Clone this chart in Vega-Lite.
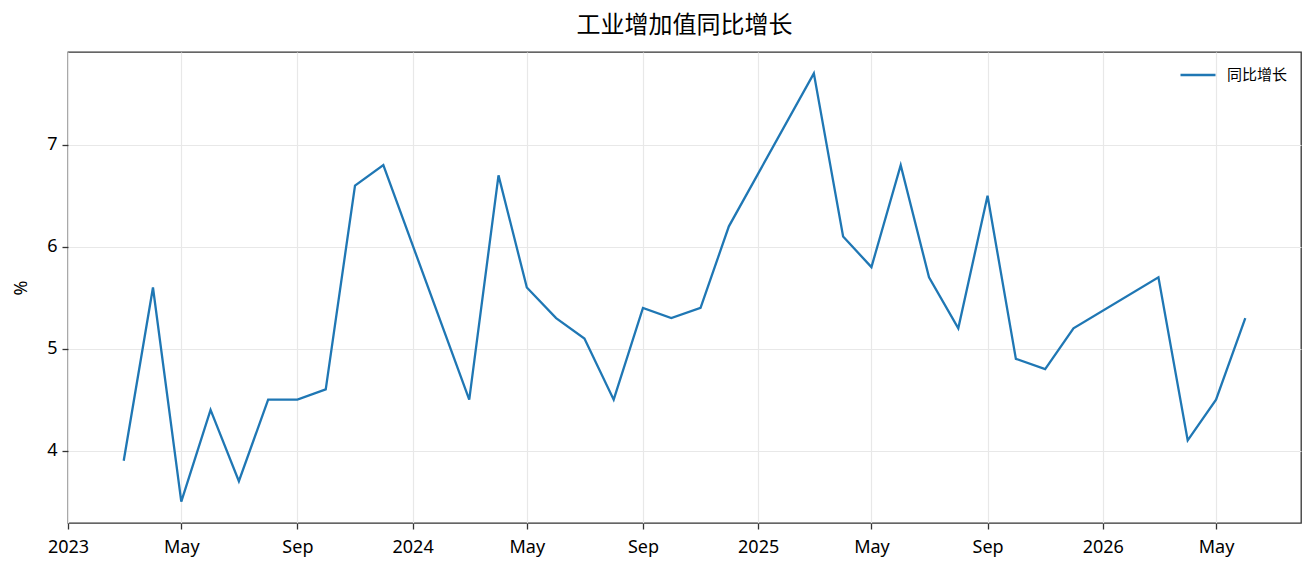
{
  "$schema": "https://vega.github.io/schema/vega-lite/v6.json",
  "width": 1233,
  "height": 471,
  "autosize": {"type": "none"},
  "padding": {"left": 68, "top": 52, "right": 14, "bottom": 50},
  "background": "white",
  "title": {
    "text": "工业增加值同比增长",
    "font": "Noto Sans CJK SC",
    "fontSize": 24,
    "fontWeight": "normal",
    "color": "#000000",
    "anchor": "middle",
    "offset": 14
  },
  "config": {
    "view": {"stroke": "#333333", "strokeWidth": 1.3},
    "axis": {
      "labelFont": "Noto Sans",
      "labelFontSize": 18,
      "labelColor": "#000000",
      "titleFont": "Noto Sans",
      "titleFontSize": 18,
      "titleFontWeight": "normal",
      "titleColor": "#000000",
      "domain": false,
      "tickColor": "#333333",
      "tickSize": 6,
      "tickWidth": 1.3,
      "gridColor": "#e8e8e8",
      "gridWidth": 1.2,
      "labelPadding": 5
    }
  },
  "data": {
    "values": [
      {"date": "2023-03-01", "value": 3.9, "series": "同比增长"},
      {"date": "2023-04-01", "value": 5.6, "series": "同比增长"},
      {"date": "2023-05-01", "value": 3.5, "series": "同比增长"},
      {"date": "2023-06-01", "value": 4.4, "series": "同比增长"},
      {"date": "2023-07-01", "value": 3.7, "series": "同比增长"},
      {"date": "2023-08-01", "value": 4.5, "series": "同比增长"},
      {"date": "2023-09-01", "value": 4.5, "series": "同比增长"},
      {"date": "2023-10-01", "value": 4.6, "series": "同比增长"},
      {"date": "2023-11-01", "value": 6.6, "series": "同比增长"},
      {"date": "2023-12-01", "value": 6.8, "series": "同比增长"},
      {"date": "2024-03-01", "value": 4.5, "series": "同比增长"},
      {"date": "2024-04-01", "value": 6.7, "series": "同比增长"},
      {"date": "2024-05-01", "value": 5.6, "series": "同比增长"},
      {"date": "2024-06-01", "value": 5.3, "series": "同比增长"},
      {"date": "2024-07-01", "value": 5.1, "series": "同比增长"},
      {"date": "2024-08-01", "value": 4.5, "series": "同比增长"},
      {"date": "2024-09-01", "value": 5.4, "series": "同比增长"},
      {"date": "2024-10-01", "value": 5.3, "series": "同比增长"},
      {"date": "2024-11-01", "value": 5.4, "series": "同比增长"},
      {"date": "2024-12-01", "value": 6.2, "series": "同比增长"},
      {"date": "2025-03-01", "value": 7.7, "series": "同比增长"},
      {"date": "2025-04-01", "value": 6.1, "series": "同比增长"},
      {"date": "2025-05-01", "value": 5.8, "series": "同比增长"},
      {"date": "2025-06-01", "value": 6.8, "series": "同比增长"},
      {"date": "2025-07-01", "value": 5.7, "series": "同比增长"},
      {"date": "2025-08-01", "value": 5.2, "series": "同比增长"},
      {"date": "2025-09-01", "value": 6.5, "series": "同比增长"},
      {"date": "2025-10-01", "value": 4.9, "series": "同比增长"},
      {"date": "2025-11-01", "value": 4.8, "series": "同比增长"},
      {"date": "2025-12-01", "value": 5.2, "series": "同比增长"},
      {"date": "2026-03-01", "value": 5.7, "series": "同比增长"},
      {"date": "2026-04-01", "value": 4.1, "series": "同比增长"},
      {"date": "2026-05-01", "value": 4.5, "series": "同比增长"},
      {"date": "2026-06-01", "value": 5.3, "series": "同比增长"}
    ]
  },
  "mark": {"type": "line", "strokeWidth": 2.3, "interpolate": "linear"},
  "encoding": {
    "x": {
      "field": "date",
      "type": "temporal",
      "scale": {
        "type": "utc",
        "domain": [
          {"year": 2023, "month": 1, "date": 1, "utc": true},
          {"year": 2026, "month": 7, "date": 30, "utc": true}
        ],
        "nice": false
      },
      "axis": {
        "title": null,
        "grid": true,
        "labelPadding": 9,
        "values": [
          {"year": 2023, "month": 1, "date": 1, "utc": true},
          {"year": 2023, "month": 5, "date": 1, "utc": true},
          {"year": 2023, "month": 9, "date": 1, "utc": true},
          {"year": 2024, "month": 1, "date": 1, "utc": true},
          {"year": 2024, "month": 5, "date": 1, "utc": true},
          {"year": 2024, "month": 9, "date": 1, "utc": true},
          {"year": 2025, "month": 1, "date": 1, "utc": true},
          {"year": 2025, "month": 5, "date": 1, "utc": true},
          {"year": 2025, "month": 9, "date": 1, "utc": true},
          {"year": 2026, "month": 1, "date": 1, "utc": true},
          {"year": 2026, "month": 5, "date": 1, "utc": true}
        ],
        "labelExpr": "utcmonth(datum.value) == 0 ? utcFormat(datum.value, '%Y') : utcFormat(datum.value, '%b')",
        "labelFlush": false,
        "labelOverlap": false
      }
    },
    "y": {
      "field": "value",
      "type": "quantitative",
      "scale": {"domain": [3.29, 7.91], "nice": false, "zero": false},
      "axis": {
        "title": "%",
        "values": [4, 5, 6, 7],
        "grid": true,
        "titlePadding": 16
      }
    },
    "color": {
      "field": "series",
      "type": "nominal",
      "scale": {"range": ["#1f77b4"]},
      "legend": {
        "title": null,
        "orient": "none",
        "legendX": 1111,
        "legendY": 4,
        "padding": 0,
        "symbolType": "stroke",
        "symbolSize": 1225,
        "symbolStrokeWidth": 2.3,
        "labelFont": "Noto Sans CJK SC",
        "labelFontSize": 15,
        "labelColor": "#000000",
        "labelOffset": 10
      }
    }
  }
}
